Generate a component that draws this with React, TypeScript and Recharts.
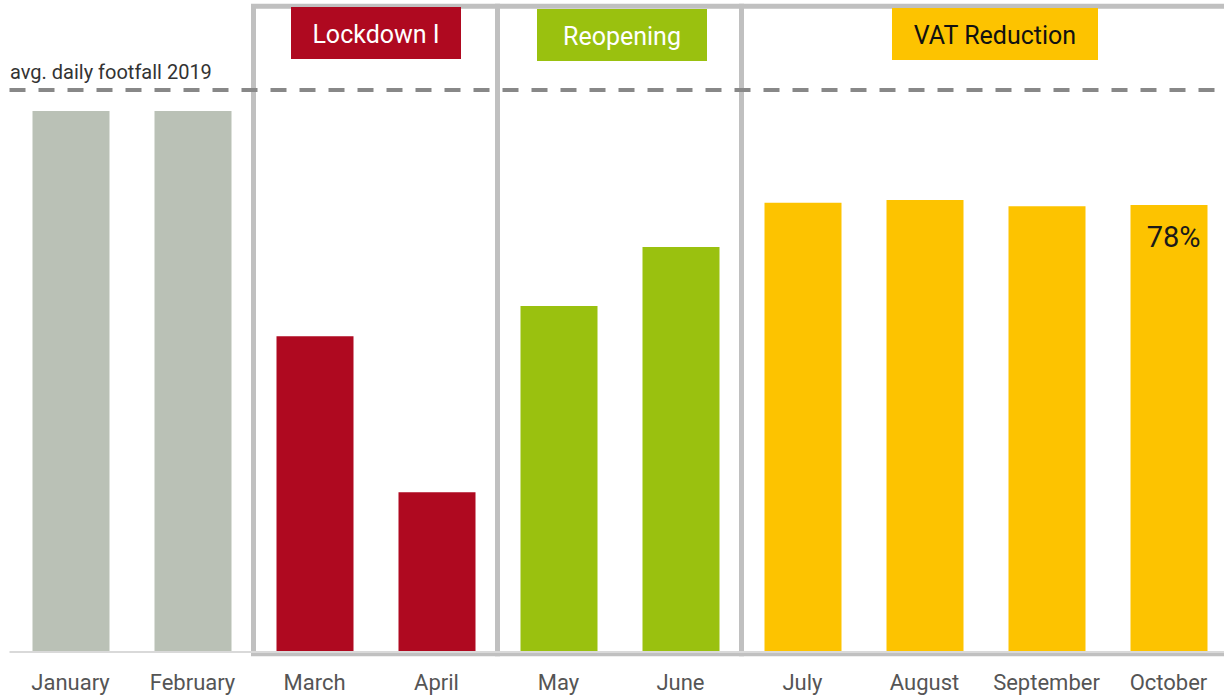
import { BarChart, Bar, XAxis, YAxis, Cell, ReferenceArea, ReferenceLine, LabelList } from 'recharts';

const months = ['January', 'February', 'March', 'April', 'May', 'June', 'July', 'August', 'September', 'October'];
const footfall = [94.4, 94.4, 55.1, 27.9, 60.4, 70.7, 78.4, 78.9, 77.8, 78];
const phase = ['pre', 'pre', 'lockdown', 'lockdown', 'reopening', 'reopening', 'vat', 'vat', 'vat', 'vat'];
const valueLabels = ['', '', '', '', '', '', '', '', '', '78%'];
const avg2019 = 98.1;

const phaseColors: Record<string, string> = {
  pre: '#bac1b6',
  lockdown: '#af0920',
  reopening: '#9ac10f',
  vat: '#fdc300',
};

// phase boxes: first/last month of each period
const periods = [
  { name: 'Lockdown I', from: 'March', to: 'April', color: '#af0920', text: '#ffffff', left: 291, top: 7, width: 170 },
  { name: 'Reopening', from: 'May', to: 'June', color: '#9ac10f', text: '#ffffff', left: 537, top: 9, width: 170 },
  { name: 'VAT Reduction', from: 'July', to: 'October', color: '#fdc300', text: '#111111', left: 892, top: 8, width: 206 },
];

const data = months.map((m, i) => ({ month: m, value: footfall[i], phase: phase[i], label: valueLabels[i] }));

const FONT = 'Roboto, "DejaVu Sans", sans-serif';

export default function App() {
  return (
    <div style={{ position: 'absolute', left: 0, top: 0, width: 1224, height: 696, overflow: 'hidden', background: '#fff', fontFamily: FONT }}>
      <BarChart
        width={1240}
        height={696}
        data={data}
        margin={{ top: 4.5, right: 10.5, left: 9.5, bottom: 4 }}
      >
        <XAxis
          dataKey="month"
          height={40}
          tickLine={false}
          tickMargin={16}
          axisLine={{ stroke: '#d9d9d9', strokeWidth: 2 }}
          tick={{ fill: '#555555', fontSize: 22, fontFamily: FONT }}
          interval={0}
        />
        <YAxis hide domain={[0, 113]} />
        {periods.map((p) => (
          <ReferenceArea
            key={p.name}
            x1={p.from}
            x2={p.to}
            y1={-0.3}
            y2={112.7}
            ifOverflow="visible"
            fill="none"
            fillOpacity={0}
            stroke="#c0c0c0"
            strokeWidth={5}
          />
        ))}
        <ReferenceLine
          y={avg2019}
          stroke="#888888"
          strokeWidth={4}
          strokeDasharray="16 13"
          ifOverflow="visible"
          label={(props: any) => (
            <text x={10} y={props.viewBox.y - 11} fill="#333333" fontSize={20} fontFamily={FONT}>
              avg. daily footfall 2019
            </text>
          )}
        />
        <Bar dataKey="value" barSize={77} isAnimationActive={false}>
          {data.map((d, i) => (
            <Cell key={i} fill={phaseColors[d.phase]} />
          ))}
          <LabelList
            dataKey="label"
            content={(props: any) =>
              props.value ? (
                <text
                  x={props.x + props.width - 7}
                  y={props.y + 42}
                  textAnchor="end"
                  fill="#1a1a1a"
                  fontSize={29}
                  fontFamily={FONT}
                >
                  {props.value}
                </text>
              ) : null
            }
          />
        </Bar>
      </BarChart>
      {periods.map((p) => (
        <div
          key={p.name}
          style={{
            position: 'absolute',
            left: p.left,
            top: p.top,
            width: p.width,
            height: 52,
            overflow: 'hidden',
            background: p.color,
            color: p.text,
            fontSize: 25,
            lineHeight: '56px',
            textAlign: 'center',
            fontFamily: FONT,
          }}
        >
          {p.name}
        </div>
      ))}
    </div>
  );
}
